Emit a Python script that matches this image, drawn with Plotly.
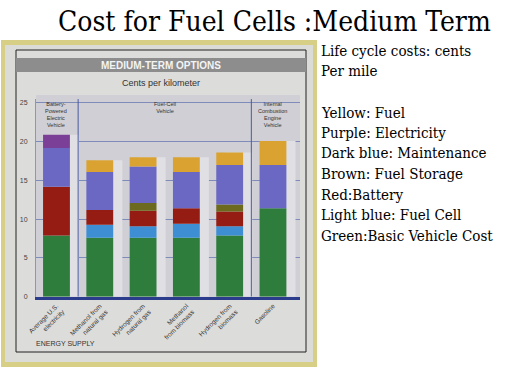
import numpy as np
import plotly.graph_objects as go

# ---------------- data ----------------
categories = ["Average U.S.<br>electricity", "Methanol from<br>natural gas", "Hydrogen from<br>natural gas",
              "Methanol<br>from biomass", "Hydrogen from<br>biomass", "Gasoline"]
basic_vehicle = [7.9, 7.6, 7.6, 7.6, 7.9, 11.4]
fuel_cell     = [0.0, 1.7, 1.5, 1.8, 1.2, 0.0]
battery       = [6.3, 1.9, 2.0, 2.0, 1.9, 0.0]
fuel_storage  = [0.0, 0.0, 1.0, 0.0, 0.9, 0.0]
maintenance   = [5.0, 4.9, 4.7, 4.7, 5.1, 5.6]
electricity   = [1.7, 0.0, 0.0, 0.0, 0.0, 0.0]
fuel          = [0.0, 1.5, 1.2, 1.9, 1.6, 3.1]
y_ticks = [0, 5, 10, 15, 20, 25]
y_ticktext = ["0", "5", "10", "15", "20", "25"]
groups = ["Battery-<br>Powered<br>Electric<br>Vehicle", "Fuel-Cell<br>Vehicle",
          "Internal<br>Combustion<br>Engine<br>Vehicle"]
group_pos = [0, 2.5, 5]
dividers = [0.5, 4.5]
side_lines = ["Life cycle costs: cents", "Per mile", "Yellow: Fuel", "Purple: Electricity",
              "Dark blue: Maintenance", "Brown: Fuel Storage", "Red:Battery",
              "Light blue: Fuel Cell", "Green:Basic Vehicle Cost"]

series = [
    ("Basic Vehicle Cost", basic_vehicle, "#2f7d3c"),
    ("Fuel Cell", fuel_cell, "#3d8ed2"),
    ("Battery", battery, "#941c12"),
    ("Fuel Storage", fuel_storage, "#6b6a1e"),
    ("Maintenance", maintenance, "#6a68c2"),
    ("Electricity", electricity, "#7b3f98"),
    ("Fuel", fuel, "#d9a231"),
]

W, H = 512, 384
def px(x): return x / W
def py(y): return 1 - y / H

xpos = np.arange(len(categories))
totals = np.sum([s[1] for s in series], axis=0)

fig = go.Figure()
# shadow columns
fig.add_trace(go.Bar(x=xpos, y=totals, base=0, width=0.62, offset=-0.1,
                     marker=dict(color="#dfdfe4", line=dict(width=0)),
                     hoverinfo="skip", showlegend=False))
base = np.zeros(len(categories))
for name, vals, col in series:
    v = np.array(vals)
    fig.add_trace(go.Bar(x=xpos, y=v, base=base.copy(), name=name, width=0.62,
                         marker=dict(color=col, line=dict(width=0)), showlegend=False))
    base = base + v

chart_font = "Liberation Sans Narrow, Arial Narrow, Liberation Sans, Arial"
serif = "DejaVu Serif Condensed, DejaVu Serif"

shapes = [
    dict(type="rect", xref="paper", yref="paper", x0=px(1), x1=px(317), y0=py(367), y1=py(40),
         fillcolor="#d8cf86", line=dict(width=0), layer="below"),
    dict(type="rect", xref="paper", yref="paper", x0=px(5), x1=px(313), y0=py(362), y1=py(45),
         fillcolor="#dbdbd7", line=dict(width=0), layer="below"),
    dict(type="rect", xref="paper", yref="paper", x0=px(16), x1=px(306), y0=py(352), y1=py(50),
         fillcolor="#dcdcda", line=dict(color="#222222", width=1), layer="below"),
    dict(type="rect", xref="paper", yref="paper", x0=px(16), x1=px(306), y0=py(72), y1=py(58),
         fillcolor="#8d8d8d", line=dict(width=0), layer="below"),
    dict(type="rect", xref="paper", yref="paper", x0=px(36), x1=px(300), y0=py(297), y1=py(95),
         fillcolor="#cfcfd5", line=dict(width=0), layer="below"),
]
for d in dividers:
    shapes.append(dict(type="line", xref="x", yref="y", x0=d, x1=d, y0=0, y1=25.5,
                       line=dict(color="#4a5aa0", width=1)))

annotations = [
    dict(text="Cost for Fuel Cells :Medium Term", xref="paper", yref="paper", x=px(274), y=py(21),
         xanchor="center", yanchor="middle", showarrow=False,
         font=dict(family=serif, size=28, color="#000000")),
    dict(text="<b>MEDIUM-TERM OPTIONS</b>", xref="paper", yref="paper", x=px(161), y=py(65),
         xanchor="center", yanchor="middle", showarrow=False,
         font=dict(family=chart_font, size=10, color="#f4f4f4")),
    dict(text="Cents per kilometer", xref="paper", yref="paper", x=px(161), y=py(83),
         xanchor="center", yanchor="middle", showarrow=False,
         font=dict(family=chart_font, size=9, color="#333333")),
    dict(text="ENERGY SUPPLY", xref="paper", yref="paper", x=px(34), y=py(343),
         xanchor="left", yanchor="middle", showarrow=False,
         font=dict(family=chart_font, size=7, color="#333333")),
]
side_y = [51, 71.5, 113, 133, 153.5, 174, 194.5, 215, 236]
for t, yy in zip(side_lines, side_y):
    annotations.append(dict(text=t, xref="paper", yref="paper", x=px(319), y=py(yy),
                            xanchor="left", yanchor="middle", showarrow=False,
                            font=dict(family=serif, size=15, color="#000000")))
for g, gp in zip(groups, group_pos):
    annotations.append(dict(text=g, xref="x", yref="paper", x=gp, y=py(99), xanchor="center", yanchor="top",
                            showarrow=False, font=dict(family=chart_font, size=5.5, color="#333333")))

fig.update_layout(
    width=W, height=H, margin=dict(l=0, r=0, t=0, b=0, autoexpand=False),
    paper_bgcolor="#ffffff", plot_bgcolor="rgba(0,0,0,0)",
    barmode="overlay", showlegend=False,
    shapes=shapes, annotations=annotations,
    xaxis=dict(domain=[px(36), px(300)], range=[-0.473, 5.624], automargin=False,
               tickvals=list(xpos), ticktext=categories, tickangle=-45,
               tickfont=dict(family=chart_font, size=6.5, color="#333333"),
               showgrid=False, zeroline=False, showline=True, linecolor="#2b3c8c", linewidth=3,
               ticks=""),
    yaxis=dict(domain=[py(296.7), py(99.1)], range=[0, 25.5], automargin=False,
               tickvals=y_ticks, ticktext=y_ticktext,
               tickfont=dict(family=chart_font, size=7, color="#444444"),
               showgrid=True, gridcolor="#7f8cba", gridwidth=1, zeroline=False,
               showline=True, linecolor="#8a96c0", linewidth=1, ticks="", ticklabelstandoff=6),
)

fig.write_html("out.html", config={"displayModeBar": False},
               post_script="document.body.style.margin='0';")
